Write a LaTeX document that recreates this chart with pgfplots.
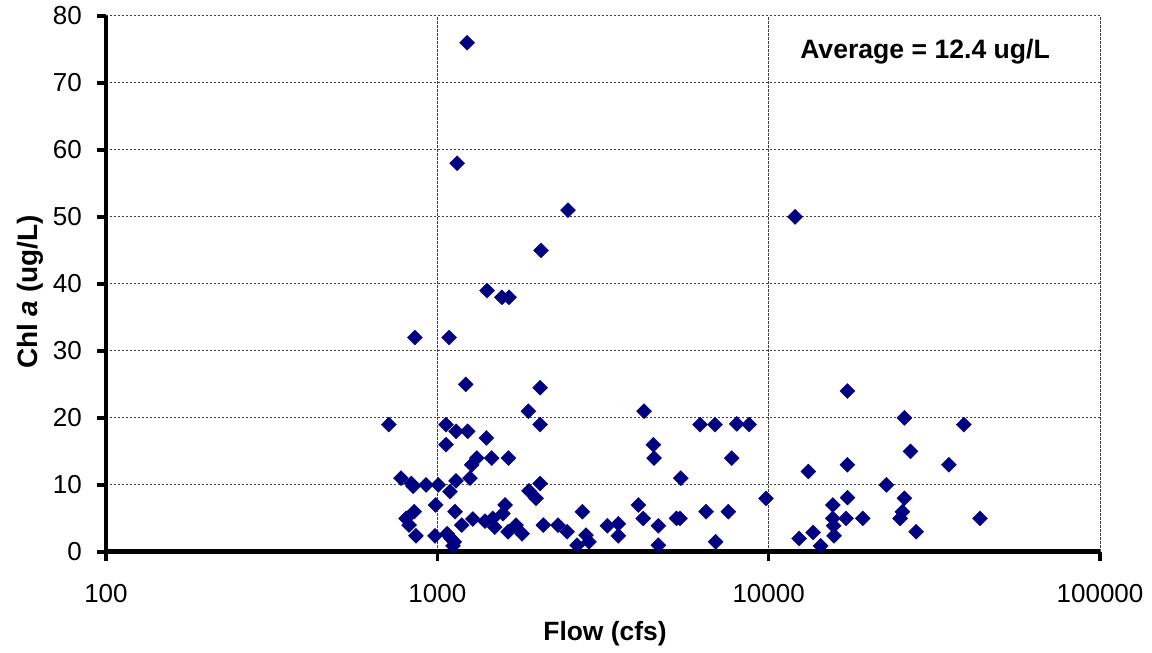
\documentclass[border=0pt]{standalone}
\usepackage{fontspec}
\setmainfont{Liberation Sans}
\usepackage{pgfplots}
\pgfplotsset{compat=1.18}
\definecolor{navyd}{RGB}{0,0,128}
\begin{document}
\begin{tikzpicture}
\begin{axis}[
  scale only axis,
  width=497pt, height=268pt,
  xmode=log, log basis x=10,
  xmin=100, xmax=100000,
  ymin=0, ymax=80,
  xtick={100,1000,10000,100000},
  xticklabels={100,1000,10000,100000},
  xminorticks=false,
  ytick={0,10,...,80},
  axis x line*=bottom, axis y line*=left,
  axis line style={line width=2.4pt, -},
  tick style={line width=1.8pt, black},
  tick align=outside,
  major tick length=4.5pt,
  grid=major,
  major grid style={black!75, line width=0.4pt, dash pattern=on 1.2pt off 0.8pt},
  /pgf/number format/assume math mode=true,
  ticklabel style={font=\fontsize{13}{15}\selectfont},
  xticklabel style={yshift=-8pt},
  yticklabel style={xshift=-4pt},
  xlabel={\textbf{Flow (cfs)}},
  ylabel={\textbf{Chl \textit{a} (ug/L)}},
  xlabel style={font=\fontsize{13.2}{15}\selectfont, at={(axis description cs:0.502,-0.153)}, anchor=center},
  ylabel style={font=\fontsize{14}{16}\selectfont, at={(axis description cs:-0.0765,0.485)}, anchor=center},
  clip=false,
]
\addplot[only marks, mark=square*, mark size=2.65pt, mark options={rotate=45, fill=navyd, draw=navyd, line width=0.2pt}] coordinates {
(1230,76) (1147,58) (2480,51) (12016,50) (2056,45) (1413,39) (1567,38) (1646,38)
(856,32) (1085,32) (1218,25) (2043,24.5) (1883,21) (2043,19) (4206,21) (714,19)
(1062,19) (1139,18) (1235,18) (1406,17) (1062,16) (4488,16) (4510,14) (1316,14)
(1270,13) (1459,14) (1639,14) (1255,11) (1139,10.6) (777,11) (835,10.2) (845,9.8)
(925,10) (1007,10) (1092,9) (2043,10.2) (1892,9.1) (1986,8) (989,7) (1131,6)
(852,6) (805,5) (822,4) (862,2.4) (984,2.4) (1070,2.7) (1100,2) (1125,1.5)
(1115,0.9) (1185,4) (1280,4.9) (1393,4.6) (1470,5) (1490,3.7) (1601,7) (1578,5.7)
(1635,3) (1728,4) (1802,2.7) (2089,4) (2314,4) (2464,3) (2740,6) (2641,1)
(2811,2.5) (2870,1.5) (3260,3.9) (3518,4.2) (3518,2.4) (4045,7) (4180,5) (6209,19)
(6887,19) (8015,19.1) (8730,19) (7741,14) (5430,11) (9816,8) (4645,3.9) (4645,1)
(5270,5) (5403,5) (6472,6) (7555,6) (6918,1.5) (13183,12) (17280,24) (17280,13)
(17300,8.1) (15615,7) (15615,5) (15700,3.9) (15750,2.4) (17125,5) (19230,5) (12352,2)
(13620,2.9) (14350,0.9) (25680,20) (38820,19) (26780,15) (34970,13) (22660,10) (25680,8)
(25330,6) (24930,5) (27860,3) (43450,5)
};
\node[font=\bfseries\fontsize{13.3}{15}\selectfont, anchor=center] at (axis description cs:0.824,0.933) {Average = 12.4 ug/L};
\path (axis description cs:-0.1066,-0.1847) rectangle (axis description cs:1.0523,1.0261);
\end{axis}
\end{tikzpicture}
\end{document}
